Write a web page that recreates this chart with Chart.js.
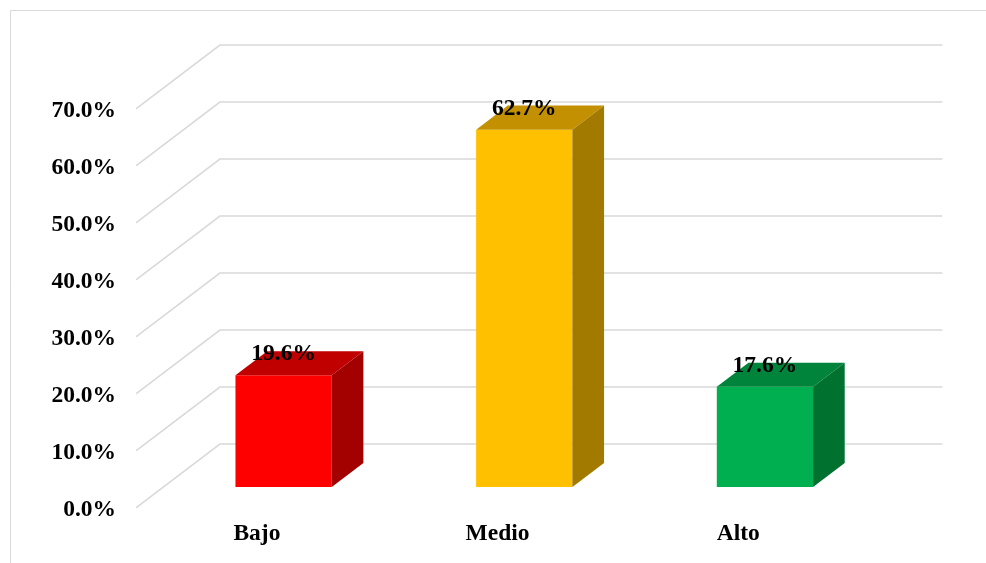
<!DOCTYPE html>
<html lang="es">
<head>
<meta charset="utf-8">
<title>Nivel</title>
<script src="https://cdn.jsdelivr.net/npm/chart.js@4/dist/chart.umd.min.js"></script>
<style>
  html, body { margin: 0; padding: 0; background: #ffffff; }
  #wrap { width: 986px; height: 563px; }
</style>
</head>
<body>
<div id="wrap"><canvas id="chart" width="986" height="563"></canvas></div>
<script>
// Categories and their percentages
const categories = ['Bajo', 'Medio', 'Alto'];
const percentages = [19.6, 62.7, 17.6];

// Value axis range and step (percent)
const axisMin = 0;
const axisMax = 70;
const axisStep = 10;

// Face colours of each column: front, top, right side
const frontColors = ['#FF0000', '#FFC000', '#00B050'];
const topColors   = ['#C00000', '#C29000', '#00843C'];
const sideColors  = ['#A30000', '#A37A00', '#00712F'];

// Oblique depth of the plot box (front plane to back wall)
const depth = { dx: 83.3, dy: -63.3 };
const columnOffset = 0.32;   // depth at which the column fronts stand
const columnDepth = 0.38;    // thickness of each column along the depth axis

const labelFont = { family: '"Liberation Serif", "Times New Roman", serif', size: 23.5, weight: 'bold' };
const gridColor = '#D9D9D9';

const fmt = v => v.toFixed(1) + '%';

const box3d = {
  id: 'box3d',
  beforeDraw(chart) {
    const ctx = chart.ctx;
    ctx.save();
    ctx.strokeStyle = gridColor;
    ctx.lineWidth = 1;
    ctx.beginPath();
    ctx.moveTo(10.5, chart.height + 5);
    ctx.lineTo(10.5, 10.5);
    ctx.lineTo(chart.width + 5, 10.5);
    ctx.stroke();
    ctx.restore();
  },
  beforeDatasetsDraw(chart) {
    const ctx = chart.ctx;
    const area = chart.chartArea;
    const y = chart.scales.y;
    ctx.save();
    ctx.strokeStyle = gridColor;
    ctx.lineWidth = 1.6;
    ctx.lineCap = 'round';
    y.ticks.forEach(t => {
      const py = y.getPixelForValue(t.value);
      ctx.beginPath();
      // side wall
      ctx.moveTo(area.left, py);
      ctx.lineTo(area.left + depth.dx, py + depth.dy);
      // back wall
      ctx.lineTo(area.right + depth.dx, py + depth.dy);
      ctx.stroke();
    });
    ctx.restore();
    // columns stand a little behind the front plane
    ctx.save();
    ctx.translate(depth.dx * columnOffset, depth.dy * columnOffset);
  },
  afterDatasetsDraw(chart) {
    const ctx = chart.ctx;
    const meta = chart.getDatasetMeta(0);
    const ddx = depth.dx * columnDepth;
    const ddy = depth.dy * columnDepth;
    meta.data.forEach((bar, i) => {
      const p = bar.getProps(['x', 'y', 'base', 'width'], true);
      const l = p.x - p.width / 2;
      const r = p.x + p.width / 2;
      // top face
      ctx.fillStyle = topColors[i];
      ctx.beginPath();
      ctx.moveTo(l, p.y);
      ctx.lineTo(r, p.y);
      ctx.lineTo(r + ddx, p.y + ddy);
      ctx.lineTo(l + ddx, p.y + ddy);
      ctx.closePath();
      ctx.fill();
      // right side face
      ctx.fillStyle = sideColors[i];
      ctx.beginPath();
      ctx.moveTo(r, p.y);
      ctx.lineTo(r + ddx, p.y + ddy);
      ctx.lineTo(r + ddx, p.base + ddy);
      ctx.lineTo(r, p.base);
      ctx.closePath();
      ctx.fill();
    });
    // value labels
    ctx.fillStyle = '#000000';
    ctx.font = `${labelFont.weight} ${labelFont.size}px ${labelFont.family}`;
    ctx.textAlign = 'center';
    ctx.textBaseline = 'middle';
    meta.data.forEach((bar, i) => {
      const p = bar.getProps(['x', 'y'], true);
      ctx.fillText(fmt(percentages[i]), p.x, p.y + ddy + 3);
    });
    ctx.restore();
  }
};

new Chart(document.getElementById('chart'), {
  type: 'bar',
  data: {
    labels: categories,
    datasets: [{
      data: percentages,
      backgroundColor: frontColors,
      borderWidth: 0,
      categoryPercentage: 1,
      barPercentage: 0.4
    }]
  },
  options: {
    responsive: false,
    animation: false,
    devicePixelRatio: 1,
    layout: { padding: { left: 0, right: 127.4, top: 108.3, bottom: 0 } },
    plugins: {
      legend: { display: false },
      tooltip: { enabled: false },
      title: { display: false }
    },
    scales: {
      x: {
        grid: { display: false, drawTicks: false },
        border: { display: false },
        ticks: { color: '#000000', font: labelFont, padding: 13, maxRotation: 0 },
        afterFit(scale) { scale.height = 55.7; }
      },
      y: {
        min: axisMin,
        max: axisMax,
        grid: { display: false, drawTicks: false },
        border: { display: false },
        ticks: {
          stepSize: axisStep,
          color: '#000000',
          font: labelFont,
          padding: 20.6,
          labelOffset: 2.5,
          callback: v => fmt(v)
        },
        afterFit(scale) { scale.width = 136.6; }
      }
    }
  },
  plugins: [box3d]
});
</script>
</body>
</html>
